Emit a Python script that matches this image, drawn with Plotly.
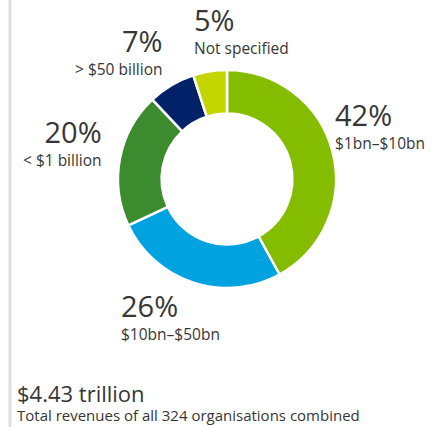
import plotly.graph_objects as go

W, H = 444, 427

# Data
labels = ["$1bn–$10bn", "$10bn–$50bn", "< $1 billion", "> $50 billion", "Not specified"]
shares = [42, 26, 20, 7, 5]
colors = ["#84BD00", "#00A3E0", "#3D8B2F", "#012169", "#C4D600"]
total_label = "$4.43 trillion"
total_note = "Total revenues of all 324 organisations combined"

FONT = "Open Sans"
TXT = "#363636"

def px(x):
    return x / W

def py(y):
    return 1 - y / H

fig = go.Figure()
fig.add_trace(go.Pie(
    values=shares, labels=labels, hole=0.6, sort=False, direction="clockwise",
    rotation=0, marker=dict(colors=colors, line=dict(color="white", width=2.5)),
    textinfo="none", hoverinfo="label+percent", showlegend=False,
    domain=dict(x=[px(118), px(336)], y=[py(288), py(70)]),
))

# label blocks (pixels): x, middle y of the two lines, anchor
label_pos = [
    (333, 124, "left"),
    (119, 315, "left"),
    (104, 142, "right"),
    (164, 50, "right"),
    (192, 30, "left"),
]
for (x, y, anc), lab, v in zip(label_pos, labels, shares):
    txt = f"<span style='font-size:29px'>{v}%</span><br><span style='font-size:15.5px'>{lab}</span>"
    fig.add_annotation(x=px(x), y=py(y), xref="paper", yref="paper", text=txt,
                       showarrow=False, xanchor=anc, yanchor="middle", align=anc,
                       font=dict(family=FONT, size=17.5, color=TXT))

# total at the bottom
fig.add_annotation(x=px(15), y=py(393), xref="paper", yref="paper", text=total_label,
                   showarrow=False, xanchor="left", yanchor="middle",
                   font=dict(family=FONT, size=22, color=TXT))
fig.add_annotation(x=px(15), y=0, xref="paper", yref="paper", text=total_note,
                   showarrow=False, xanchor="left", yanchor="bottom",
                   font=dict(family=FONT, size=15, color=TXT))

fig.add_shape(type="line", xref="paper", yref="paper", x0=px(10), x1=px(10), y0=0, y1=1,
              line=dict(color="#DEDEDE", width=3))

fig.update_layout(width=W, height=H, margin=dict(l=0, r=0, t=0, b=0),
                  paper_bgcolor="white", plot_bgcolor="white")
fig.write_html("out.html", config={"displayModeBar": False},
               post_script="document.body.style.margin='0px';")
